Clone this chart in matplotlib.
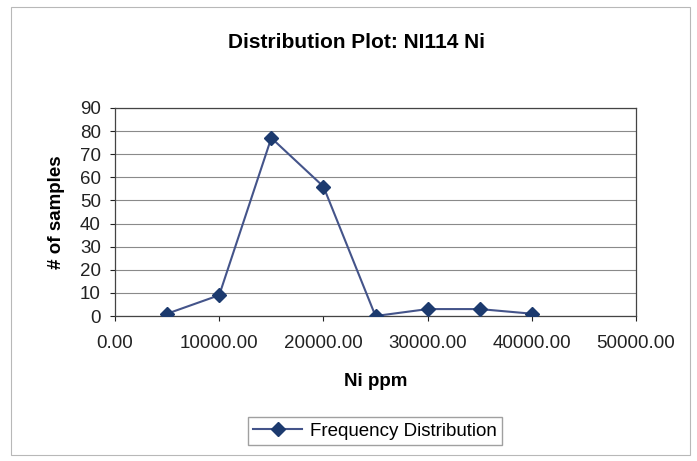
import matplotlib
matplotlib.use("Agg")
import matplotlib.pyplot as plt
from matplotlib.patches import Rectangle

ni_ppm = [5000, 10000, 15000, 20000, 25000, 30000, 35000, 40000]
n_samples = [1, 9, 77, 56, 0, 3, 3, 1]
x_ticks = [0, 10000, 20000, 30000, 40000, 50000]
y_ticks = [0, 10, 20, 30, 40, 50, 60, 70, 80, 90]

plt.rcParams["font.family"] = ["Liberation Sans", "DejaVu Sans"]

fig = plt.figure(figsize=(6.97, 4.61), dpi=100)
fig.patches.append(Rectangle((0.016, 0.012), 0.974, 0.973, transform=fig.transFigure,
                             fill=False, edgecolor="#b8b8b8", linewidth=0.8))

ax = fig.add_axes([0.165, 0.3145, 0.7475, 0.4515])
ax.plot(ni_ppm, n_samples, color="#44548a", linewidth=1.5, marker="D",
        markersize=7, markerfacecolor="#1c3a6e", markeredgecolor="#1c3a6e",
        label="Frequency Distribution", zorder=3)

ax.set_xlim(0, 50000)
ax.set_ylim(0, 90)
ax.set_xticks(x_ticks)
ax.set_xticklabels([f"{v:.2f}" for v in x_ticks])
ax.set_yticks(y_ticks)
ax.tick_params(axis="both", labelsize=13.5, direction="out", length=3.6, width=0.8,
               colors="#222222", pad=6.5)
ax.tick_params(axis="x", pad=10)
ax.grid(axis="y", color="#8a8a8a", linewidth=0.8)
ax.set_axisbelow(True)
for s in ax.spines.values():
    s.set_color("#444444")
    s.set_linewidth(0.9)

ax.set_xlabel("Ni ppm", fontsize=13.5, fontweight="bold", labelpad=15)
ax.set_ylabel("# of samples", fontsize=13.5, fontweight="bold", labelpad=11)
fig.text(357 / 697, 1 - 43 / 461, "Distribution Plot: NI114 Ni", ha="center", va="center",
         fontsize=15, fontweight="bold")

fig.legend(loc="center", bbox_to_anchor=(375 / 697, 1 - 431 / 461), fontsize=13.5,
           frameon=True, fancybox=False, edgecolor="#888888", handlelength=2.6,
           borderpad=0.3, handletextpad=0.4)

fig.savefig("out.png", dpi=100)
